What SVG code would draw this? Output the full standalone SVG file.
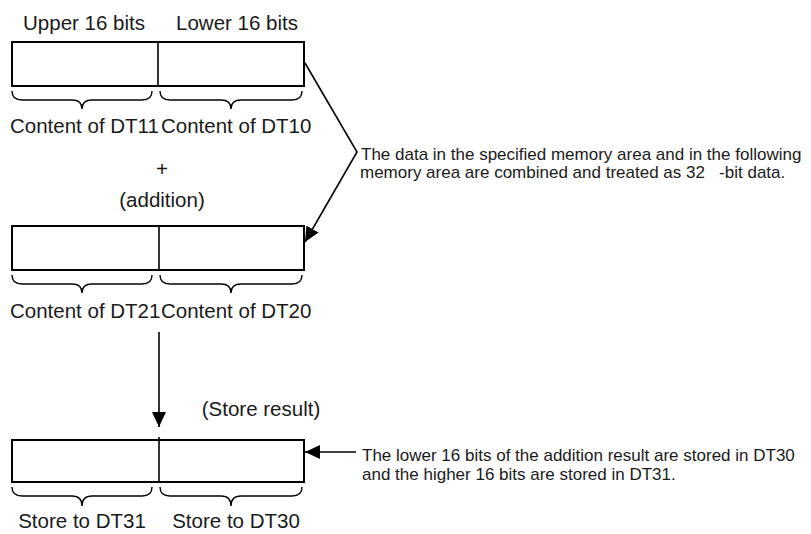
<svg xmlns="http://www.w3.org/2000/svg" width="811" height="534" viewBox="0 0 811 534">
<style>
  .box { fill: #fff; stroke: #000; stroke-width: 2; }
  .div { stroke: #000; stroke-width: 1.6; }
  .brace { fill: none; stroke: #000; stroke-width: 1.4; }
  .lbl { font-family: "Liberation Sans", Arial, sans-serif; font-size: 20.5px; fill: #1a1a1a; }
  .note { font-family: "Liberation Sans", Arial, sans-serif; font-size: 17px; fill: #1a1a1a; white-space: pre; }
  .conn { fill: none; stroke: #000; stroke-width: 1.6; }
</style>
<defs>
  <marker id="ah" viewBox="0 0 15 14" refX="15" refY="7" markerWidth="15" markerHeight="14" orient="auto" markerUnits="userSpaceOnUse">
    <path d="M0,0 L15,7 L0,14 z" fill="#000"/>
  </marker>
</defs>
<rect width="811" height="534" fill="#fff"/>

<g id="reg1">
  <text class="lbl" x="84" y="30" text-anchor="middle">Upper 16 bits</text>
  <text class="lbl" x="237" y="30" text-anchor="middle">Lower 16 bits</text>
  <rect class="box" x="12" y="42" width="292" height="44"/>
  <line class="div" x1="158" y1="42" x2="158" y2="86"/>
  <path class="brace" d="M12,91 Q12,100 22,100 L72,100 Q82,100 82,109 Q82,100 92,100 L142,100 Q152,100 152,91"/>
  <path class="brace" d="M160,91 Q160,100 170,100 L221,100 Q231,100 231,109 Q231,100 241,100 L292,100 Q302,100 302,91"/>
  <text class="lbl" x="10" y="133">Content of DT11</text>
  <text class="lbl" x="161" y="133">Content of DT10</text>
</g>

<g id="op">
  <text class="lbl" x="162" y="176" text-anchor="middle">+</text>
  <text class="lbl" x="162" y="207" text-anchor="middle">(addition)</text>
</g>

<g id="reg2">
  <rect class="box" x="12" y="226" width="292" height="44"/>
  <line class="div" x1="159" y1="226" x2="159" y2="270"/>
  <path class="brace" d="M12,275 Q12,284 22,284 L72,284 Q82,284 82,293 Q82,284 92,284 L142,284 Q152,284 152,275"/>
  <path class="brace" d="M160,275 Q160,284 170,284 L221,284 Q231,284 231,293 Q231,284 241,284 L292,284 Q302,284 302,275"/>
  <text class="lbl" x="10" y="318">Content of DT21</text>
  <text class="lbl" x="161" y="318">Content of DT20</text>
</g>

<g id="store-label">
  <text class="lbl" x="261" y="416" text-anchor="middle">(Store result)</text>
</g>

<g id="reg3">
  <rect class="box" x="12" y="440" width="292" height="42"/>
  <line class="div" x1="159" y1="437" x2="159" y2="482"/>
  <path class="brace" d="M12,487 Q12,496 22,496 L72,496 Q82,496 82,506 Q82,496 92,496 L142,496 Q152,496 152,487"/>
  <path class="brace" d="M160,487 Q160,496 170,496 L221,496 Q231,496 231,506 Q231,496 241,496 L292,496 Q302,496 302,487"/>
  <text class="lbl" x="82" y="528" text-anchor="middle">Store to DT31</text>
  <text class="lbl" x="236" y="528" text-anchor="middle">Store to DT30</text>
</g>

<g id="note1">
  <text class="note" x="361" y="160">The data in the specified memory area and in the following</text>
  <text class="note" x="360" y="178">memory area are combined and treated as 32   -bit data.</text>
</g>

<g id="note2">
  <text class="note" x="362" y="461">The lower 16 bits of the addition result are stored in DT30</text>
  <text class="note" x="362" y="480">and the higher 16 bits are stored in DT31.</text>
</g>

<g id="connectors">
  <polyline class="conn" points="305,63 357,152 305,242" marker-end="url(#ah)"/>
  <line class="conn" x1="159" y1="332" x2="159" y2="427" marker-end="url(#ah)"/>
  <line class="conn" x1="356" y1="452" x2="305" y2="452" marker-end="url(#ah)"/>
</g>
</svg>
